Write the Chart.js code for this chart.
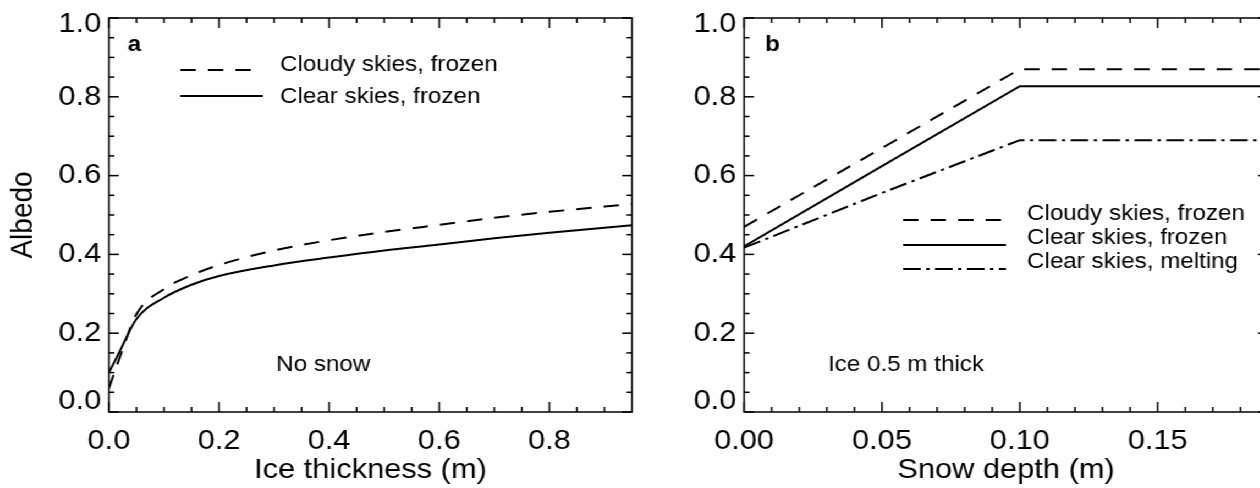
<!DOCTYPE html>
<html>
<head>
<meta charset="utf-8">
<script src="https://cdn.jsdelivr.net/npm/chart.js@4.4.1/dist/chart.umd.min.js"></script>
<style>
html, body { margin: 0; padding: 0; background: #fff; overflow: hidden; }
#page { position: relative; width: 1260px; height: 488px; overflow: hidden; }
/* the original figure is stretched sideways a little, so the whole drawing is too */
#wrap { position: absolute; left: 0; top: 0; width: 1160px; height: 488px;
        transform: scaleX(1.1); transform-origin: 0 0; }
#boxA { position: absolute; left: 0; top: 0; width: 600px; height: 488px; }
#boxB { position: absolute; left: 600px; top: 0; width: 560px; height: 488px; }
</style>
</head>
<body>
<div id="page">
<div id="wrap">
  <div id="boxA"><canvas id="chartA" width="600" height="488"></canvas></div>
  <div id="boxB"><canvas id="chartB" width="560" height="488"></canvas></div>
</div>
</div>
<script>
// panel a: albedo against ice thickness, no snow
var iceThickness  = [0.0, 0.02, 0.05, 0.1, 0.15, 0.2, 0.3, 0.4, 0.5, 0.6, 0.7, 0.8, 0.95];
var cloudyFrozenA = [0.06, 0.14, 0.248, 0.312, 0.347, 0.373, 0.41, 0.436, 0.457, 0.475, 0.493, 0.508, 0.528];
var clearFrozenA  = [0.10, 0.155, 0.236, 0.29, 0.323, 0.345, 0.372, 0.392, 0.41, 0.425, 0.441, 0.455, 0.474];

// panel b: albedo against snow depth, ice 0.5 m thick
var snowDepth     = [0.0, 0.05, 0.1, 0.19];
var cloudyFrozenB = [0.47, 0.67, 0.87, 0.87];
var clearFrozenB  = [0.42, 0.624, 0.827, 0.827];
var clearMeltingB = [0.417, 0.556, 0.69, 0.69];

// ticks
var albedoTicks = [0.0, 0.2, 0.4, 0.6, 0.8, 1.0];
var albedoMinor = [0.05, 0.1, 0.15, 0.25, 0.3, 0.35, 0.45, 0.5, 0.55, 0.65, 0.7, 0.75, 0.85, 0.9, 0.95];
var iceTicks  = [0.0, 0.2, 0.4, 0.6, 0.8];
var iceMinor  = [0.05, 0.1, 0.15, 0.25, 0.3, 0.35, 0.45, 0.5, 0.55, 0.65, 0.7, 0.75, 0.85, 0.9];
var snowTicks = [0.0, 0.05, 0.1, 0.15];
var snowMinor = [0.01, 0.02, 0.03, 0.04, 0.06, 0.07, 0.08, 0.09, 0.11, 0.12, 0.13, 0.14, 0.16, 0.17, 0.18];

var FONT = '"Liberation Sans", Arial, Helvetica, sans-serif';
var DASH = [14, 11];
var DASHDOT = [16, 5, 3, 5];

function pts(xs, ys) {
    return xs.map(function(x, i) { return {x: x, y: ys[i]}; });
}

function line(ctx, x1, y1, x2, y2) {
    ctx.beginPath();
    ctx.moveTo(x1, y1);
    ctx.lineTo(x2, y2);
    ctx.stroke();
}

// frame with inward ticks on all sides, y labels, legend and notes
var framePlugin = {
    id: 'frame',
    afterDraw: function(chart, args, opts) {
        var ctx = chart.ctx, a = chart.chartArea;
        var xs = chart.scales.x, ys = chart.scales.y;
        ctx.save();
        ctx.strokeStyle = '#000';
        ctx.fillStyle = '#000';
        ctx.lineWidth = 1.5;
        ctx.setLineDash([]);
        ctx.strokeRect(a.left, a.top, a.right - a.left, a.bottom - a.top);

        function tx(v, len) {
            var p = xs.getPixelForValue(v);
            line(ctx, p, a.bottom, p, a.bottom - len);
            line(ctx, p, a.top, p, a.top + len);
        }
        function ty(v, len) {
            var p = ys.getPixelForValue(v);
            line(ctx, a.left, p, a.left + len, p);
            line(ctx, a.right, p, a.right - len, p);
        }
        opts.xMajor.forEach(function(v) { tx(v, 10); });
        opts.xMinor.forEach(function(v) { tx(v, 5); });
        albedoTicks.forEach(function(v) { ty(v, 9); });
        albedoMinor.forEach(function(v) { ty(v, 5); });

        // y tick labels, end labels pulled inside like the original
        ctx.font = '28px ' + FONT;
        ctx.textAlign = 'right';
        ctx.textBaseline = 'middle';
        albedoTicks.forEach(function(v) {
            var p = ys.getPixelForValue(v);
            if (v === 0) p -= 11;
            if (v === 1) p += 6;
            ctx.fillText(v.toFixed(1), a.left - 7, p);
        });

        // legend
        var lg = opts.legend;
        ctx.font = '22px ' + FONT;
        ctx.textAlign = 'left';
        chart.data.datasets.forEach(function(ds, i) {
            ctx.lineWidth = 2;
            ctx.setLineDash(ds.borderDash || []);
            line(ctx, lg.x1, lg.lineY[i], lg.x2, lg.lineY[i]);
            ctx.setLineDash([]);
            ctx.fillText(ds.label, lg.textX, lg.textY[i]);
        });

        // panel letter and note
        ctx.font = 'bold 22px ' + FONT;
        ctx.fillText(opts.letter.text, opts.letter.x, opts.letter.y);
        ctx.font = '22px ' + FONT;
        ctx.fillText(opts.note.text, opts.note.x, opts.note.y);
        ctx.restore();
    }
};

function makeChart(id, cfg) {
    return new Chart(document.getElementById(id), {
        type: 'line',
        data: { datasets: cfg.datasets },
        options: {
            responsive: false,
            animation: false,
            layout: { padding: { top: 18, right: cfg.padRight, left: 0, bottom: 0 } },
            elements: { point: { radius: 0 } },
            plugins: {
                legend: { display: false },
                tooltip: { enabled: false },
                frame: cfg.frame
            },
            scales: {
                x: {
                    type: 'linear',
                    min: cfg.xMin,
                    max: cfg.xMax,
                    afterBuildTicks: function(s) { s.ticks = cfg.xTicks.map(function(v) { return {value: v}; }); },
                    afterFit: function(s) { s.height = 76; },
                    grid: { display: false, drawTicks: false },
                    border: { display: false },
                    ticks: {
                        color: '#000', padding: 12, maxRotation: 0,
                        font: { size: 28, family: FONT },
                        callback: function(v) { return v.toFixed(cfg.xDigits); }
                    },
                    title: {
                        display: true, text: cfg.xTitle, color: '#000',
                        font: { size: 28, family: FONT }, padding: { top: 0, bottom: 1 }
                    }
                },
                y: {
                    type: 'linear',
                    min: 0,
                    max: 1,
                    afterBuildTicks: function(s) { s.ticks = albedoTicks.map(function(v) { return {value: v}; }); },
                    afterFit: function(s) { s.width = cfg.yWidth; },
                    grid: { display: false, drawTicks: false },
                    border: { display: false },
                    ticks: { display: false },
                    title: {
                        display: cfg.yTitle !== '', text: cfg.yTitle, color: '#000',
                        font: { size: 28, family: FONT }, padding: { top: 4, bottom: 0 }
                    }
                }
            }
        },
        plugins: [framePlugin]
    });
}

makeChart('chartA', {
    datasets: [
        { label: 'Cloudy skies, frozen', data: pts(iceThickness, cloudyFrozenA), borderColor: '#000',
          borderWidth: 2, borderDash: DASH, cubicInterpolationMode: 'monotone', fill: false },
        { label: 'Clear skies, frozen', data: pts(iceThickness, clearFrozenA), borderColor: '#000',
          borderWidth: 2, cubicInterpolationMode: 'monotone', fill: false }
    ],
    padRight: 25.5, yWidth: 99,
    xMin: 0, xMax: 0.95, xTicks: iceTicks, xDigits: 1,
    xTitle: 'Ice thickness (m)', yTitle: 'Albedo',
    frame: {
        xMajor: iceTicks, xMinor: iceMinor,
        legend: { x1: 164, x2: 239, textX: 254.5, lineY: [70, 96], textY: [65, 97] },
        letter: { text: 'a', x: 116, y: 45 },
        note: { text: 'No snow', x: 251, y: 365 }
    }
});

makeChart('chartB', {
    datasets: [
        { label: 'Cloudy skies, frozen', data: pts(snowDepth, cloudyFrozenB), borderColor: '#000',
          borderWidth: 2, borderDash: DASH, tension: 0, fill: false },
        { label: 'Clear skies, frozen', data: pts(snowDepth, clearFrozenB), borderColor: '#000',
          borderWidth: 2, tension: 0, fill: false },
        { label: 'Clear skies, melting', data: pts(snowDepth, clearMeltingB), borderColor: '#000',
          borderWidth: 2, borderDash: DASHDOT, tension: 0, fill: false }
    ],
    padRight: 7.3, yWidth: 76.4,
    xMin: 0, xMax: 0.19, xTicks: snowTicks, xDigits: 2,
    xTitle: 'Snow depth (m)', yTitle: '',
    frame: {
        xMajor: snowTicks, xMinor: snowMinor,
        legend: { x1: 221, x2: 314.5, textX: 333.6, lineY: [220, 245, 269], textY: [214, 238, 262] },
        letter: { text: 'b', x: 95.5, y: 45 },
        note: { text: 'Ice 0.5 m thick', x: 152.7, y: 365 }
    }
});
</script>
</body>
</html>
